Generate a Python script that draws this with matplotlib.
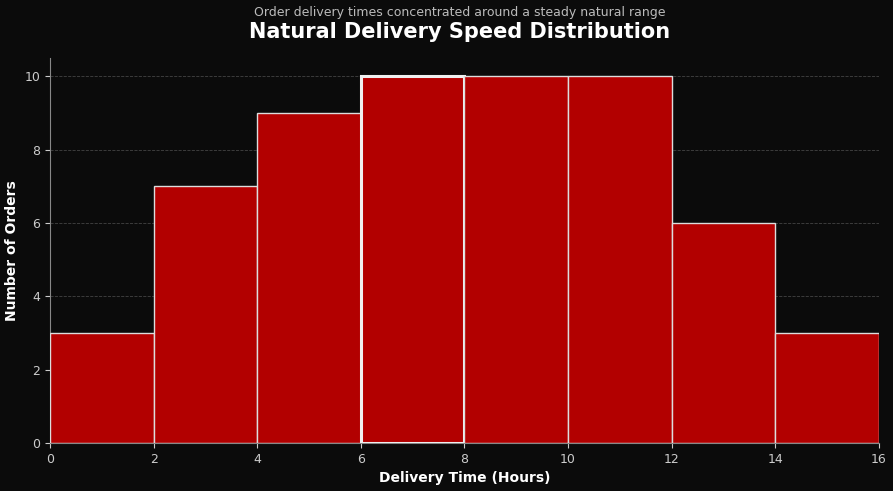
import matplotlib.pyplot as plt
import numpy as np

bin_edges = [0, 2, 4, 6, 8, 10, 12, 14, 16]
counts = [3, 7, 9, 10, 10, 10, 6, 3]
highlight = 3  # the 6-8 bin has a heavier outline

bg = '#0b0b0b'
fig, ax = plt.subplots(figsize=(8.93, 4.91), dpi=100)
fig.patch.set_facecolor(bg)
ax.set_facecolor(bg)
fig.subplots_adjust(left=0.056, right=0.984, top=0.882, bottom=0.098)

lefts = np.array(bin_edges[:-1])
widths = np.diff(bin_edges)
for i, (l, w, c) in enumerate(zip(lefts, widths, counts)):
    ax.bar(l, c, width=w, align='edge', color='#b20000',
           edgecolor='#f0f0f0' if i == highlight else '#dddddd',
           linewidth=2.2 if i == highlight else 1.0, zorder=3)

ax.set_xlim(0, 16)
ax.set_ylim(0, 10.5)
ax.set_xticks(range(0, 17, 2))
ax.set_yticks(range(0, 11, 2))
ax.yaxis.grid(True, linestyle='--', color='#444444', linewidth=0.6, zorder=0)
ax.tick_params(colors='#cccccc', labelsize=9)
for s in ['top', 'right']:
    ax.spines[s].set_visible(False)
for s in ['left', 'bottom']:
    ax.spines[s].set_color('#888888')

ax.set_xlabel('Delivery Time (Hours)', color='white', fontsize=10, fontweight='bold')
ax.set_ylabel('Number of Orders', color='white', fontsize=10, fontweight='bold')
fig.text(0.515, 0.935, 'Natural Delivery Speed Distribution', color='white',
         fontsize=15, fontweight='bold', ha='center', va='center')
fig.text(0.515, 0.975, 'Order delivery times concentrated around a steady natural range',
         color='#bbbbbb', fontsize=9, ha='center', va='center')

plt.savefig('out.png', facecolor=bg)
